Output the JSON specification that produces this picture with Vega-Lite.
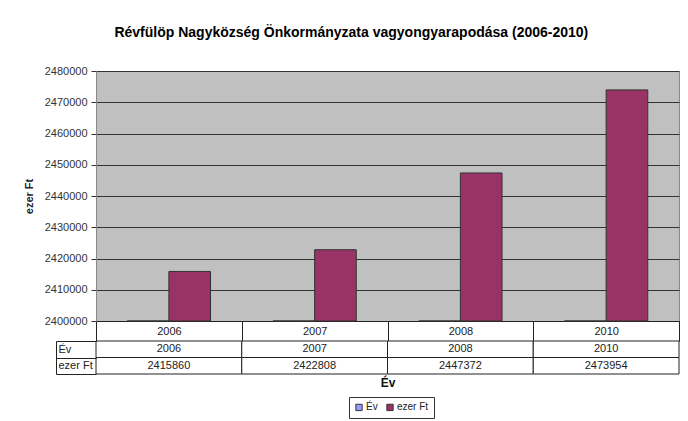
{
  "$schema": "https://vega.github.io/schema/vega-lite/v6.json",
  "background": "white",
  "padding": {"left": 22, "top": 25, "right": 7, "bottom": 2},
  "title": {"text": "Révfülöp Nagyközség Önkormányzata vagyongyarapodása (2006-2010)", "font": "Liberation Sans", "fontSize": 14, "fontWeight": "bold", "color": "#000", "anchor": "middle", "offset": 25},
  "datasets": {
    "bars": [
      {"year": "2006", "series": "Év", "value": 2006},
      {"year": "2007", "series": "Év", "value": 2007},
      {"year": "2008", "series": "Év", "value": 2008},
      {"year": "2010", "series": "Év", "value": 2010},
      {"year": "2006", "series": "ezer Ft", "value": 2415860},
      {"year": "2007", "series": "ezer Ft", "value": 2422808},
      {"year": "2008", "series": "ezer Ft", "value": 2447372},
      {"year": "2010", "series": "ezer Ft", "value": 2473954}
    ],
    "table": [
      {"year": "2006", "row": "Év", "text": "2006"},
      {"year": "2007", "row": "Év", "text": "2007"},
      {"year": "2008", "row": "Év", "text": "2008"},
      {"year": "2010", "row": "Év", "text": "2010"},
      {"year": "2006", "row": "ezer Ft", "text": "2415860"},
      {"year": "2007", "row": "ezer Ft", "text": "2422808"},
      {"year": "2008", "row": "ezer Ft", "text": "2447372"},
      {"year": "2010", "row": "ezer Ft", "text": "2473954"}
    ]
  },
  "bounds": "flush",
  "spacing": 20,
  "vconcat": [
    {
      "width": 583,
      "height": 250,
      "data": {"name": "bars"},
      "mark": {"type": "bar", "stroke": "#333", "strokeWidth": 1},
      "encoding": {
        "x": {"field": "year", "type": "nominal", "scale": {"paddingInner": 0, "paddingOuter": 0},
          "axis": {"title": null, "tickBand": "extent", "tickSize": 20, "tickColor": "#222", "domainColor": "#222", "labelAngle": 0, "labelPadding": -16, "labelBaseline": "top", "labelFontSize": 11, "labelColor": "#222"}},
        "xOffset": {"field": "series", "type": "nominal", "sort": ["Év", "ezer Ft"], "scale": {"paddingInner": 0, "paddingOuter": 0.75}},
        "y": {"field": "value", "type": "quantitative", "scale": {"domain": [2400000, 2480000], "zero": false, "clamp": true, "nice": false},
          "axis": {"title": "ezer Ft", "values": [2400000, 2410000, 2420000, 2430000, 2440000, 2450000, 2460000, 2470000, 2480000], "format": "d", "grid": true, "gridColor": "#333", "tickColor": "#333", "tickSize": 5, "domainColor": "#888", "labelFontSize": 11, "labelColor": "#333", "labelPadding": 4, "titleFontSize": 11, "titleFontWeight": "bold", "titleColor": "#222", "titlePadding": 10}},
        "color": {"field": "series", "type": "nominal", "scale": {"domain": ["Év", "ezer Ft"], "range": ["#9999FF", "#993366"]},
          "legend": {"title": null, "orient": "none", "legendX": 253, "legendY": 326, "direction": "horizontal", "strokeColor": "#333", "padding": 5, "symbolType": "square", "symbolSize": 40, "symbolStrokeColor": "#333", "symbolStrokeWidth": 1, "labelFontSize": 10, "labelColor": "#222", "columnPadding": 6, "labelOffset": 2}}
      },
      "view": {"fill": "#C0C0C0", "stroke": "#888"}
    },
    {
      "width": 583,
      "height": 33,
      "data": {"name": "table"},
      "view": {"stroke": null},
      "encoding": {
        "x": {"field": "year", "type": "nominal", "scale": {"paddingInner": 0, "paddingOuter": 0},
          "axis": {"title": "Év", "labels": false, "ticks": false, "domain": false, "titleFontWeight": "bold", "titleFontSize": 12, "titleColor": "#111", "titlePadding": 3}},
        "y": {"field": "row", "type": "nominal", "scale": {"domain": ["Év", "ezer Ft"], "paddingInner": 0, "paddingOuter": 0},
          "axis": {"title": null, "orient": "left", "offset": 40, "domain": true, "domainColor": "#222", "ticks": true, "tickBand": "extent", "tickSize": -40, "tickColor": "#222", "labelAlign": "left", "labelPadding": 38, "labelFontSize": 11, "labelColor": "#222"}}
      },
      "layer": [
        {"mark": {"type": "rect", "fill": "white", "stroke": "#222", "strokeWidth": 1}},
        {"mark": {"type": "text", "fontSize": 11, "color": "#222"}, "encoding": {"text": {"field": "text"}}}
      ]
    }
  ],
  "resolve": {"scale": {"x": "independent", "y": "independent"}, "legend": {"color": "shared"}},
  "config": {"font": "Liberation Sans"}
}
